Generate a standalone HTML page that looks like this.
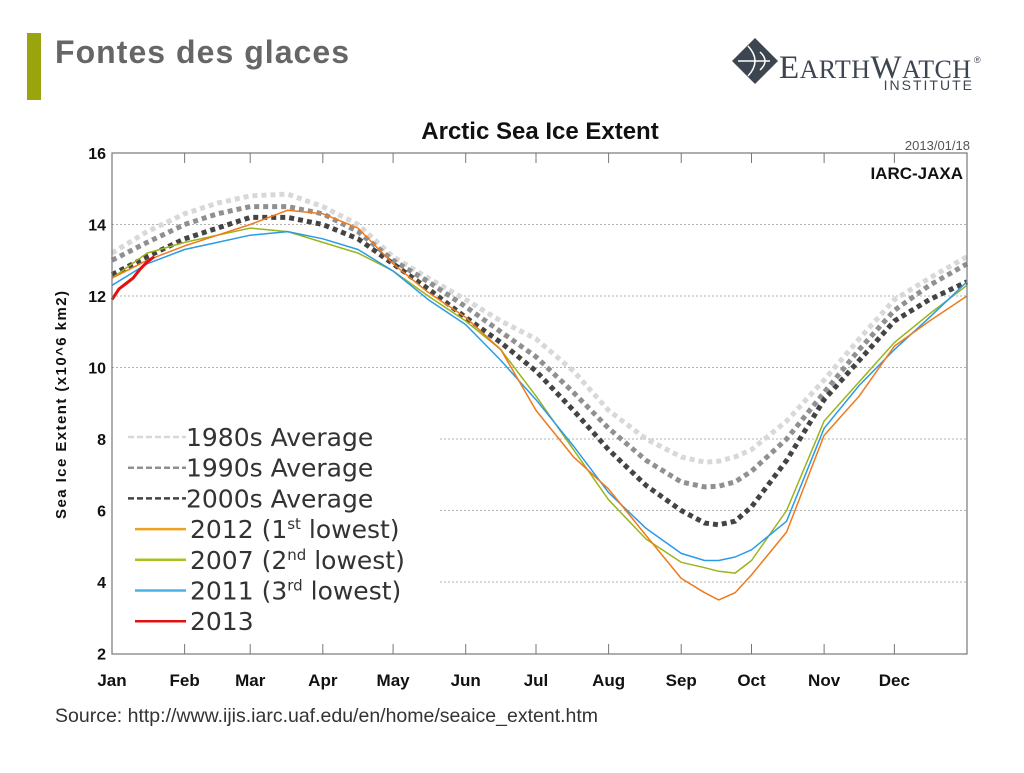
<!DOCTYPE html>
<html><head><meta charset="utf-8"><style>
body{margin:0;width:1024px;height:768px;background:#fff;overflow:hidden;font-family:"Liberation Sans",sans-serif}
</style></head><body>
<svg width="1024" height="768" viewBox="0 0 1024 768" id="svg">
<rect x="27" y="33" width="14" height="67" fill="#9aa50d"/>
<text x="55" y="63" font-size="32" font-weight="bold" fill="#666" textLength="294">Fontes des glaces</text>
<g>
<polygon points="755,38 778,61 755,84 732,61" fill="#3c4550"/>
<path d="M738,61 H770 M760,52 Q770,61 760,70 M748,46 Q762,61 748,76" stroke="#fff" stroke-width="1.5" fill="none"/>
<text x="779" y="78" font-family="Liberation Serif,serif" font-size="33" fill="#3c4550" textLength="192">E<tspan font-size="26">ARTH</tspan>W<tspan font-size="26">ATCH</tspan></text>
<text x="974" y="63" font-size="9" fill="#3c4550">®</text>
<text x="974" y="90" text-anchor="end" font-size="14" letter-spacing="2" fill="#3c4550">INSTITUTE</text>
</g>
<text x="540" y="139" text-anchor="middle" font-size="24" font-weight="bold" fill="#111">Arctic Sea Ice Extent</text>
<text x="970" y="150" text-anchor="end" font-size="13" fill="#555">2013/01/18</text>
<g id="grid"></g>
<g id="series"></g>
<rect x="112" y="153" width="855" height="501" fill="none" stroke="#777" stroke-width="1.2"/>
<g id="axes"></g>
<text x="963" y="179" text-anchor="end" font-size="17" font-weight="bold" fill="#111">IARC-JAXA</text>
<text x="66" y="405" transform="rotate(-90 66 405)" text-anchor="middle" font-size="15" font-weight="bold" fill="#111" textLength="228">Sea Ice Extent (x10^6 km2)</text>
<g id="legend" font-family="DejaVu Sans,sans-serif" font-size="25" fill="#333"></g>
<text x="55" y="722" font-size="19.5" fill="#333">Source: http://www.ijis.iarc.uaf.edu/en/home/seaice_extent.htm</text>
</svg>
<script>
const months=["Jan","Feb","Mar","Apr","May","Jun","Jul","Aug","Sep","Oct","Nov","Dec"];
const monthStart=[0,31,59,90,120,151,181,212,243,273,304,334];
const yTicks=[2,4,6,8,10,12,14,16];
const days=[0,15,31,45,59,75,90,105,120,135,151,166,181,197,212,228,243,253,259,266,273,288,304,319,334,349,365];
const s1980=[13.2,13.8,14.3,14.6,14.8,14.85,14.5,14.0,13.1,12.5,11.9,11.3,10.8,9.9,8.8,8.0,7.5,7.35,7.38,7.5,7.7,8.5,9.65,10.8,11.9,12.5,13.1];
const s1990=[13.0,13.5,14.0,14.3,14.5,14.5,14.3,13.8,13.0,12.4,11.7,11.0,10.3,9.3,8.3,7.4,6.8,6.66,6.68,6.8,7.1,8.0,9.3,10.5,11.6,12.3,12.9];
const s2000=[12.6,13.1,13.6,13.9,14.2,14.2,14.0,13.6,12.9,12.2,11.4,10.7,9.9,8.8,7.7,6.7,6.0,5.65,5.6,5.7,6.1,7.4,9.1,10.2,11.3,11.9,12.4];
const s2012=[12.5,13.0,13.4,13.7,14.0,14.4,14.3,13.9,12.9,12.1,11.4,10.5,8.8,7.5,6.6,5.3,4.1,3.7,3.5,3.7,4.2,5.4,8.1,9.2,10.6,11.3,12.0];
const s2007=[12.5,13.2,13.5,13.7,13.9,13.8,13.5,13.2,12.7,12.0,11.3,10.5,9.2,7.7,6.3,5.2,4.55,4.4,4.3,4.25,4.6,6.0,8.5,9.6,10.7,11.5,12.3];
const s2011=[12.3,12.9,13.3,13.5,13.7,13.8,13.6,13.3,12.7,11.9,11.2,10.2,9.1,7.8,6.5,5.5,4.8,4.6,4.6,4.7,4.9,5.7,8.3,9.5,10.5,11.4,12.4];
const days2013=[0,3,6,9,12,15,18];
const s2013=[11.9,12.2,12.35,12.5,12.75,12.95,13.1];
const X=d=>112+d*855/365, Y=v=>653.5-(v-2)*35.75;
const NS="http://www.w3.org/2000/svg";
function mk(t,a,p){const e=document.createElementNS(NS,t);for(const k in a)e.setAttribute(k,a[k]);p.appendChild(e);return e;}
const grid=document.getElementById('grid'),axes=document.getElementById('axes'),ser=document.getElementById('series'),leg=document.getElementById('legend');
yTicks.forEach(v=>{
 if(v>2&&v<16){const x0=v<=8?440:112;const l=mk('line',{x1:x0,x2:967,y1:Y(v),y2:Y(v),stroke:'#999','stroke-width':0.8,'stroke-dasharray':'2 2'},grid);
 
 }
 const t=mk('text',{x:106,y:Y(v)+6,'text-anchor':'end','font-size':16,'font-weight':'bold',fill:'#111'},axes);t.textContent=v;
 
 
});
months.forEach((m,i)=>{const x=X(monthStart[i]);
 if(i>0){mk('line',{x1:x,x2:x,y1:654,y2:644,stroke:'#777'},axes);mk('line',{x1:x,x2:x,y1:153,y2:163,stroke:'#777'},axes);}
 const t=mk('text',{x:x,y:686,'text-anchor':'middle','font-size':17,'font-weight':'bold',fill:'#111'},axes);t.textContent=m;
 
 
});
function line(ds,vs,st,name){const p=mk('polyline',Object.assign({points:ds.map((d,i)=>X(d).toFixed(1)+','+Y(vs[i]).toFixed(1)).join(' '),fill:'none','stroke-linejoin':'round'},st),ser);
 
 }
const dot={'stroke-width':5,'stroke-dasharray':'5 4'};
line(days,s1980,Object.assign({stroke:'#d8d8d8'},dot),'line-1980s-average');
line(days,s1990,Object.assign({stroke:'#909090'},dot),'line-1990s-average');
line(days,s2000,Object.assign({stroke:'#444'},dot),'line-2000s-average');
line(days,s2007,{stroke:'#9ab51c','stroke-width':1.5},'line-2007');
line(days,s2011,{stroke:'#2b9be8','stroke-width':1.5},'line-2011');
line(days,s2012,{stroke:'#f07a1a','stroke-width':1.5},'line-2012');
line(days2013,s2013,{stroke:'#e31010','stroke-width':3},'line-2013');
const legLabels=[["1980s Average"],["1990s Average"],["2000s Average"],["2012 (1","st"," lowest)"],["2007 (2","nd"," lowest)"],["2011 (3","rd"," lowest)"],["2013"]];
const legColors=['#d8d8d8','#909090','#444','#f0a020','#a8c020','#4ab0e8','#e31010'];
legLabels.forEach((lb,i)=>{const y=437+i*30.7;const g=mk('g',{},leg);
 
 
 const x1=i<3?128:135;
 mk('line',Object.assign({x1:x1,x2:186,y1:y,y2:y,stroke:legColors[i],'stroke-width':2.5},i<3?{'stroke-dasharray':'6 3'}:{}),g);
 const t=mk('text',{x:i<3?186:190,y:y+9},g);
 t.appendChild(document.createTextNode(lb[0]));
 if(lb.length>1){const s=mk('tspan',{'font-size':15,dy:-9},t);s.textContent=lb[1];const r=mk('tspan',{dy:9},t);r.textContent=lb[2];}
});
</script>
</body></html>
